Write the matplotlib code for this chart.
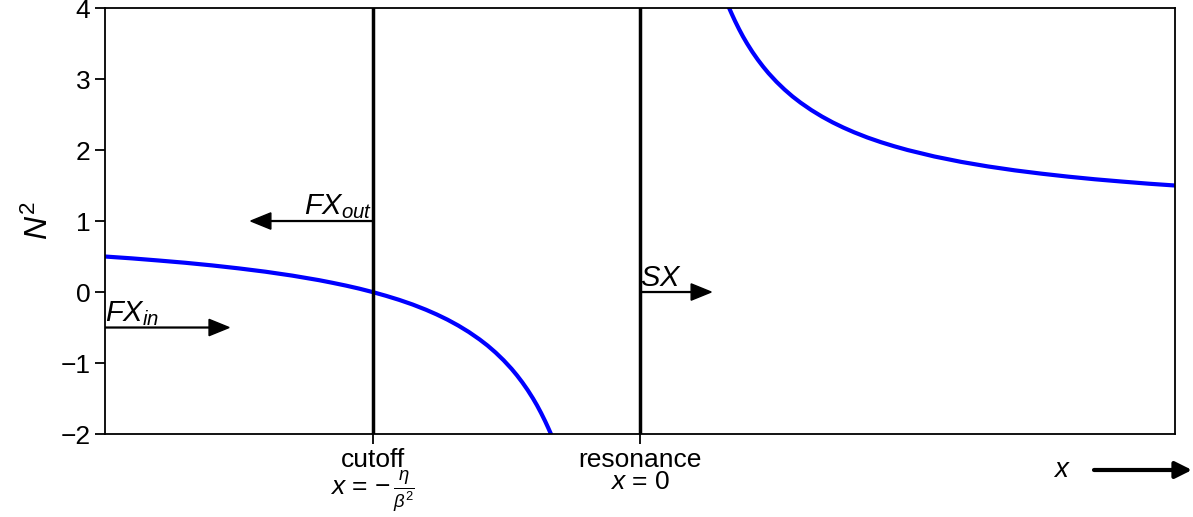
import matplotlib
matplotlib.use("Agg")
import matplotlib.pyplot as plt

plt.rcParams['font.family'] = ['Liberation Sans', 'DejaVu Sans']
plt.rcParams['mathtext.fontset'] = 'custom'
plt.rcParams['mathtext.rm'] = 'Liberation Sans'
plt.rcParams['mathtext.it'] = 'Liberation Sans:italic'
plt.rcParams['mathtext.bf'] = 'Liberation Sans:bold'
plt.rcParams['font.size'] = 19
plt.rcParams['axes.linewidth'] = 1.3

# refractive index squared, below the cutoff side and beyond the resonance
x_left = [-2.0, -1.9, -1.8, -1.7, -1.6, -1.5, -1.4, -1.3, -1.2, -1.15, -1.1,
          -1.05, -1.0, -0.95, -0.9, -0.85, -0.8, -0.76, -0.72, -0.68, -0.64,
          -0.6, -0.57, -0.54, -0.51, -0.48, -0.46, -0.44, -0.42, -0.4, -0.385,
          -0.37, -0.355, -0.343, -0.333]
n2_left = [0.5, 0.474, 0.444, 0.412, 0.375, 0.333, 0.286, 0.231, 0.167, 0.13, 0.091,
           0.048, 0.0, -0.053, -0.111, -0.176, -0.25, -0.316, -0.389, -0.471, -0.563,
           -0.667, -0.754, -0.852, -0.961, -1.083, -1.174, -1.273, -1.381, -1.5, -1.597,
           -1.703, -1.817, -1.915, -2.0]
x_right = [0.333, 0.343, 0.355, 0.37, 0.385, 0.4, 0.42, 0.44, 0.46, 0.48, 0.51,
           0.54, 0.57, 0.6, 0.64, 0.68, 0.72, 0.76, 0.8, 0.85, 0.9, 0.95, 1.0,
           1.1, 1.2, 1.3, 1.4, 1.5, 1.6, 1.7, 1.8, 1.9, 2.0]
n2_right = [4.0, 3.915, 3.817, 3.703, 3.597, 3.5, 3.381, 3.273, 3.174, 3.083, 2.961,
            2.852, 2.754, 2.667, 2.563, 2.471, 2.389, 2.316, 2.25, 2.176, 2.111, 2.053, 2.0,
            1.909, 1.833, 1.769, 1.714, 1.667, 1.625, 1.588, 1.556, 1.526, 1.5]

cutoff_x = -1.0
resonance_x = 0.0
tick_labels = ['cutoff\n$x$ = $-\\,\\frac{\\eta}{\\beta^2}$', 'resonance\n$x$ = 0']

fig = plt.figure(figsize=(11.93, 5.17), dpi=100)
ax = fig.add_axes([0.088, 0.1605, 0.897, 0.824])

ax.plot(x_left, n2_left, color='blue', lw=3)
ax.plot(x_right, n2_right, color='blue', lw=3)
ax.axvline(cutoff_x, color='black', lw=2.5)
ax.axvline(resonance_x, color='black', lw=2.5)

# wave labels with direction arrows
arrow_kw = dict(color='black', width=0.012, head_width=0.23, head_length=0.075,
                length_includes_head=True)
ax.arrow(cutoff_x, 1, -0.455, 0, **arrow_kw)
ax.text(cutoff_x, 1, '$FX_{out}$', ha='right', va='bottom', fontsize=21)
ax.arrow(-2, -0.5, 0.464, 0, **arrow_kw)
ax.text(-2, -0.5, '$FX_{in}$', ha='left', va='bottom', fontsize=21)
ax.arrow(resonance_x, 0, 0.266, 0, **arrow_kw)
ax.text(resonance_x, 0, '$SX$', ha='left', va='bottom', fontsize=21)

ax.set_xlim(-2, 2)
ax.set_ylim(-2, 4)
ax.set_xticks([cutoff_x, resonance_x])
ax.set_xticklabels(tick_labels, fontsize=19, linespacing=0.9)
ax.set_yticks(range(-2, 5))
ax.set_ylabel('$N^2$', fontsize=23)
ax.tick_params(length=7, width=1.3)
ax.tick_params(axis='x', pad=3)

# x direction indicator below the axes
fig.text(1062, 47, '$x$', transform=None, ha='center', va='center', fontsize=20)
ax.annotate('', xy=(1192, 47), xytext=(1094, 47), xycoords='figure pixels',
            textcoords='figure pixels', annotation_clip=False,
            arrowprops=dict(arrowstyle='-|>', color='black', lw=3,
                            mutation_scale=25, shrinkA=0, shrinkB=0))

fig.savefig('out.png', dpi=100)
